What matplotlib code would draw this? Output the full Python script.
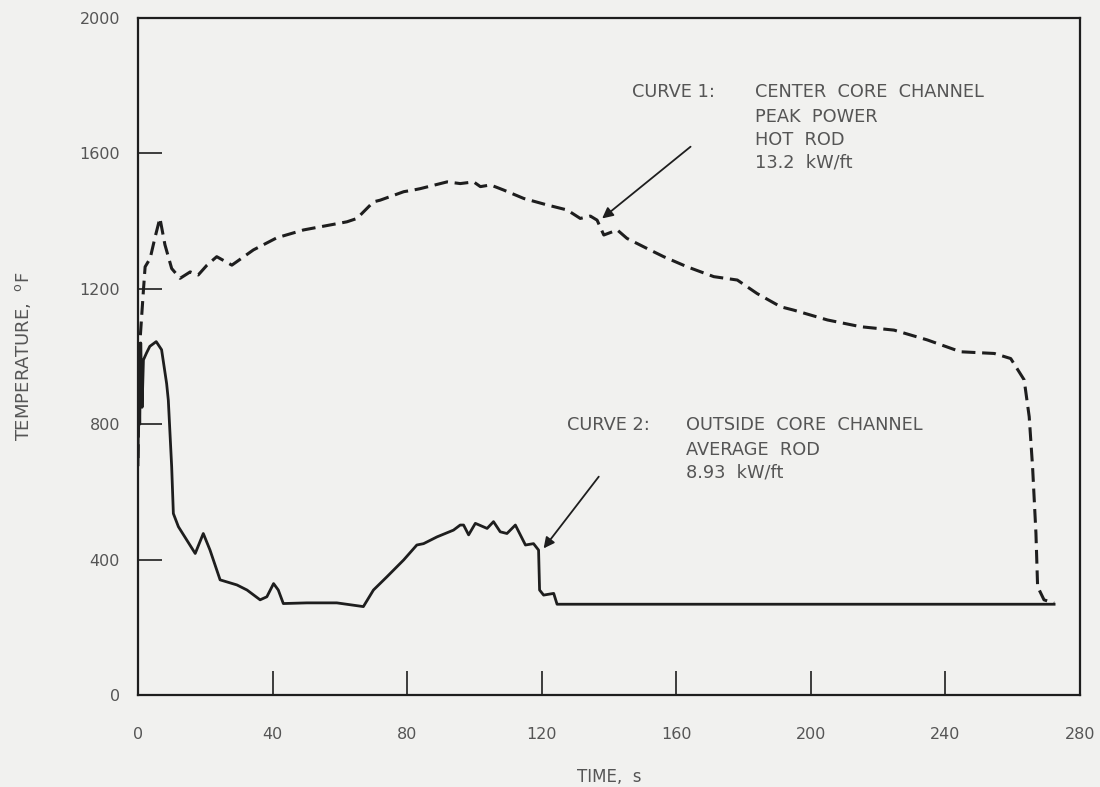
import numpy as np
import matplotlib.pyplot as plt

# cladding temperature vs time
# curve 1: center core channel, peak power hot rod (dashed)
curve1_t = [0, 0.3, 0.6, 1.6, 2.1, 3.6, 5, 6.5, 8, 10, 12.5, 15.5, 17.9, 20.5, 23.4,
            27.9, 34.3, 41.3, 49.2, 62.1, 65.1, 70, 72, 79, 81.9, 83.9, 91.9, 95.8,
            99.8, 101.8, 104.8, 108.7, 114.7, 121.6, 127.6, 131.5, 134.5, 136.5,
            138.5, 142.5, 145.4, 151.4, 156.3, 163.3, 171.2, 178.2, 184.1, 191.1,
            195, 205, 214.9, 224.8, 234.7, 244.6, 254.6, 259.5, 263.5, 265, 266,
            267, 267.5, 269.4, 272.4]
curve1_T = [700, 900, 1049, 1196, 1265, 1290, 1350, 1409, 1330, 1260, 1231, 1250, 1241,
            1270, 1295, 1270, 1315, 1351, 1374, 1398, 1408, 1457, 1462, 1487, 1492, 1496,
            1516, 1511, 1516, 1502, 1507, 1492, 1467, 1448, 1433, 1408, 1415, 1403, 1359,
            1374, 1349, 1319, 1295, 1265, 1236, 1226, 1186, 1147, 1137, 1108, 1088, 1078,
            1049, 1014, 1009, 994, 931, 822, 674, 478, 320, 281, 271]

# curve 2: outside core channel, average rod (solid)
curve2_t = [0, 0.2, 0.5, 0.8, 1.2, 1.6, 2.5, 3.5, 5.4, 7, 8.5, 9, 10, 10.5, 12, 17,
            19.4, 21.4, 24.4, 29.4, 32.4, 36.3, 38.3, 40.3, 41.7, 43.2, 50.2, 59.1,
            67, 70, 74, 79, 82.9, 84.9, 88.9, 93.8, 95.8, 96.8, 98.3, 100.3, 103.8,
            105.7, 107.7, 109.7, 112.2, 115.2, 117.6, 119.1, 119.4, 120.6, 123.6,
            124.6, 128, 272.4]
curve2_T = [680, 1000, 800, 1040, 850, 990, 1010, 1030, 1044, 1020, 920, 871, 674, 536,
            497, 418, 477, 428, 340, 325, 310, 281, 290, 329, 310, 270, 272, 272, 261,
            310, 349, 399, 443, 447, 467, 487, 502, 502, 473, 507, 492, 512, 482, 477,
            502, 443, 447, 428, 310, 295, 300, 268, 268, 268]

x_ticks = [0, 40, 80, 120, 160, 200, 240, 280]
y_ticks = [0, 400, 800, 1200, 1600, 2000]

ink = "#1e1e1e"
txt = "#555555"
paper = "#f1f1ef"

fig = plt.figure(figsize=(11, 7.87), dpi=100, facecolor=paper)
ax = fig.add_axes([0.1255, 0.117, 0.856, 0.86], facecolor=paper)

ax.plot(curve1_t, curve1_T, color=ink, lw=2.2, dashes=(4.5, 2.2))
ax.plot(curve2_t, curve2_T, color=ink, lw=2.0)

ax.set_xlim(0, 280)
ax.set_ylim(0, 2000)
ax.set_xticks(x_ticks)
ax.set_yticks(y_ticks)
ax.tick_params(direction="in", length=17, width=1.2, color=ink,
               labelsize=11.5, labelcolor=txt)
ax.tick_params(axis="x", pad=23)
ax.tick_params(axis="y", pad=13)
for s in ax.spines.values():
    s.set_linewidth(1.6)
    s.set_color(ink)

ax.set_xlabel("TIME,  s", fontsize=12, color=txt)
ax.set_ylabel("TEMPERATURE,  $^{\\mathrm{o}}$F", fontsize=13, color=txt)
ax.xaxis.set_label_coords(0.5, -0.108)
ax.yaxis.set_label_coords(-0.112, 0.5)

# curve labels
lab = dict(fontsize=12.8, color=txt, va="center", ha="left")
ax.text(147, 1781, "CURVE 1:", **lab)
ax.text(183.6, 1781, "CENTER  CORE  CHANNEL", **lab)
ax.text(183.6, 1708, "PEAK  POWER", **lab)
ax.text(183.6, 1640, "HOT  ROD", **lab)
ax.text(183.6, 1572, "13.2  kW/ft", **lab)

ax.text(127.7, 798, "CURVE 2:", **lab)
ax.text(162.8, 798, "OUTSIDE  CORE  CHANNEL", **lab)
ax.text(162.8, 724, "AVERAGE  ROD", **lab)
ax.text(162.8, 656, "8.93  kW/ft", **lab)

arrow = dict(arrowstyle="-|>", color=ink, lw=1.3, mutation_scale=16, shrinkA=0, shrinkB=0)
ax.annotate("", xy=(138, 1408), xytext=(164.3, 1620), arrowprops=arrow)
ax.annotate("", xy=(120.6, 433), xytext=(137, 645), arrowprops=arrow)

fig.savefig("out.png", dpi=100, facecolor=paper)
